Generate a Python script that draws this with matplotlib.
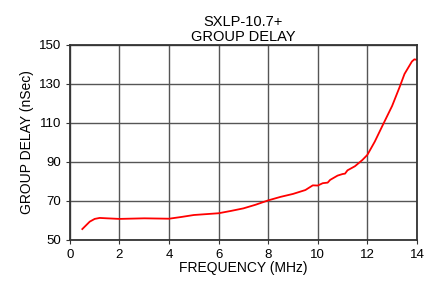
import matplotlib
matplotlib.use("Agg")
import matplotlib.pyplot as plt

plt.rcParams['font.family'] = ['Liberation Sans', 'DejaVu Sans']

freq = [0.5, 0.8, 1.0, 1.2, 1.5, 2.0, 3.0, 4.0, 4.5, 5.0, 6.0, 6.5, 7.0, 7.5, 8.0,
        8.5, 9.0, 9.5, 9.8, 10.0, 10.2, 10.4, 10.5, 10.8, 11.0, 11.1, 11.2, 11.5,
        11.8, 12.0, 12.3, 12.6, 13.0, 13.3, 13.5, 13.8, 13.9, 14.0]
delay = [55.6, 59.4, 60.8, 61.3, 61.1, 60.8, 61.1, 60.9, 61.8, 62.8, 63.7, 64.9,
         66.2, 68.1, 70.3, 72.1, 73.6, 75.6, 78.0, 77.9, 79.1, 79.4, 80.8, 83.0,
         83.8, 84.0, 85.7, 87.8, 91.0, 93.6, 100.4, 108.3, 118.7, 128.3, 135.1,
         141.5, 142.6, 142.3]

xticks = [0, 2, 4, 6, 8, 10, 12, 14]
yticks = [50, 70, 90, 110, 130, 150]

fig = plt.figure(figsize=(4.37, 2.84), dpi=100)
ax = fig.add_axes([0.160, 0.155, 0.794, 0.687])
ax.plot(freq, delay, color='#ff0000', lw=1.3)
ax.set_xlim(0, 14)
ax.set_ylim(50, 150)
ax.set_xticks(xticks)
ax.set_yticks(yticks)
ax.grid(True, color='#555555', lw=1.0)
ax.set_axisbelow(True)
for s in ax.spines.values():
    s.set_color('#333333')
    s.set_linewidth(1.3)
ax.tick_params(labelsize=9.5, length=3, width=0.8, colors='#333333', labelcolor='black')
ax.set_xlabel('FREQUENCY (MHz)', fontsize=10, labelpad=0)
ax.set_ylabel('GROUP DELAY (nSec)', fontsize=10, labelpad=3)
ax.set_title('SXLP-10.7+\nGROUP DELAY', fontsize=10.5, linespacing=1.1, pad=3)
fig.savefig('out.png', dpi=100)
